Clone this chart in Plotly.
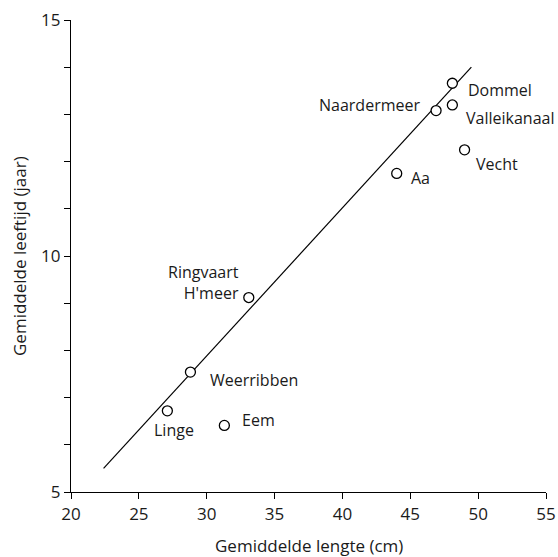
import plotly.graph_objects as go

# Data
sites = ["Dommel", "Naardermeer", "Valleikanaal", "Vecht", "Aa",
         "Ringvaart<br>H'meer", "Weerribben", "Linge", "Eem"]
lengte = [48.1, 46.9, 48.1, 49.0, 44.0, 33.1, 28.8, 27.1, 31.3]
leeftijd = [13.66, 13.08, 13.2, 12.25, 11.75, 9.12, 7.54, 6.72, 6.41]

fit_x = [22.4, 49.5]
fit_y = [5.5, 14.0]

x_title = "Gemiddelde lengte (cm)"
y_title = "Gemiddelde leeftijd (jaar)"

FONT = "Open Sans"
FS = 17
LFS = 16
TXT = "#1a1a1a"

fig = go.Figure()
fig.add_trace(go.Scatter(x=fit_x, y=fit_y, mode="lines",
                         line=dict(color="black", width=1.2),
                         hoverinfo="skip", showlegend=False))
fig.add_trace(go.Scatter(x=lengte, y=leeftijd, mode="markers",
                         marker=dict(size=10, color="white",
                                     line=dict(color="black", width=1.3)),
                         showlegend=False))

# label placement: (xanchor, xshift, yshift)
placement = {
    "Dommel": ("left", 14, -7),
    "Naardermeer": ("right", -14, 6),
    "Valleikanaal": ("left", 12, -13),
    "Vecht": ("left", 9, -14),
    "Aa": ("left", 12, -5),
    "Ringvaart<br>H'meer": ("right", -8, 15),
    "Weerribben": ("left", 18, -8),
    "Linge": ("center", 7, -19),
    "Eem": ("left", 16, 5),
}
for s, xv, yv in zip(sites, lengte, leeftijd):
    anc, dx, dy = placement[s]
    fig.add_annotation(x=xv, y=yv, xref="x", yref="y", text=s, showarrow=False,
                       xanchor=anc, yanchor="middle", align="right",
                       xshift=dx, yshift=dy,
                       font=dict(family=FONT, size=LFS, color=TXT))

# axis titles
fig.add_annotation(x=0.5, y=0, xref="paper", yref="paper", text=x_title,
                   showarrow=False, xanchor="center", yanchor="middle",
                   yshift=-53, font=dict(family=FONT, size=FS, color=TXT))
fig.add_annotation(x=0, y=0.5, xref="paper", yref="paper", text=y_title,
                   showarrow=False, xanchor="center", yanchor="middle",
                   textangle=-90, xshift=-52,
                   font=dict(family=FONT, size=FS, color=TXT))

axis_common = dict(showgrid=False, zeroline=False, showline=True,
                   linecolor="black", linewidth=1.3, ticks="outside",
                   ticklen=6, tickwidth=1.3, tickcolor="black",
                   tickfont=dict(family=FONT, size=FS, color=TXT),
                   mirror=False, automargin=False)

fig.update_xaxes(range=[20, 55], dtick=5, tick0=20, **axis_common)
fig.update_yaxes(range=[5, 15], dtick=5, tick0=5,
                 minor=dict(dtick=1, ticks="outside", ticklen=6,
                            tickwidth=1.3, tickcolor="black"),
                 **axis_common)

fig.update_layout(width=558, height=557,
                  margin=dict(l=71, r=12, t=20, b=65),
                  plot_bgcolor="white", paper_bgcolor="white",
                  font=dict(family=FONT, size=FS, color=TXT))

fig.write_html("out.html")
